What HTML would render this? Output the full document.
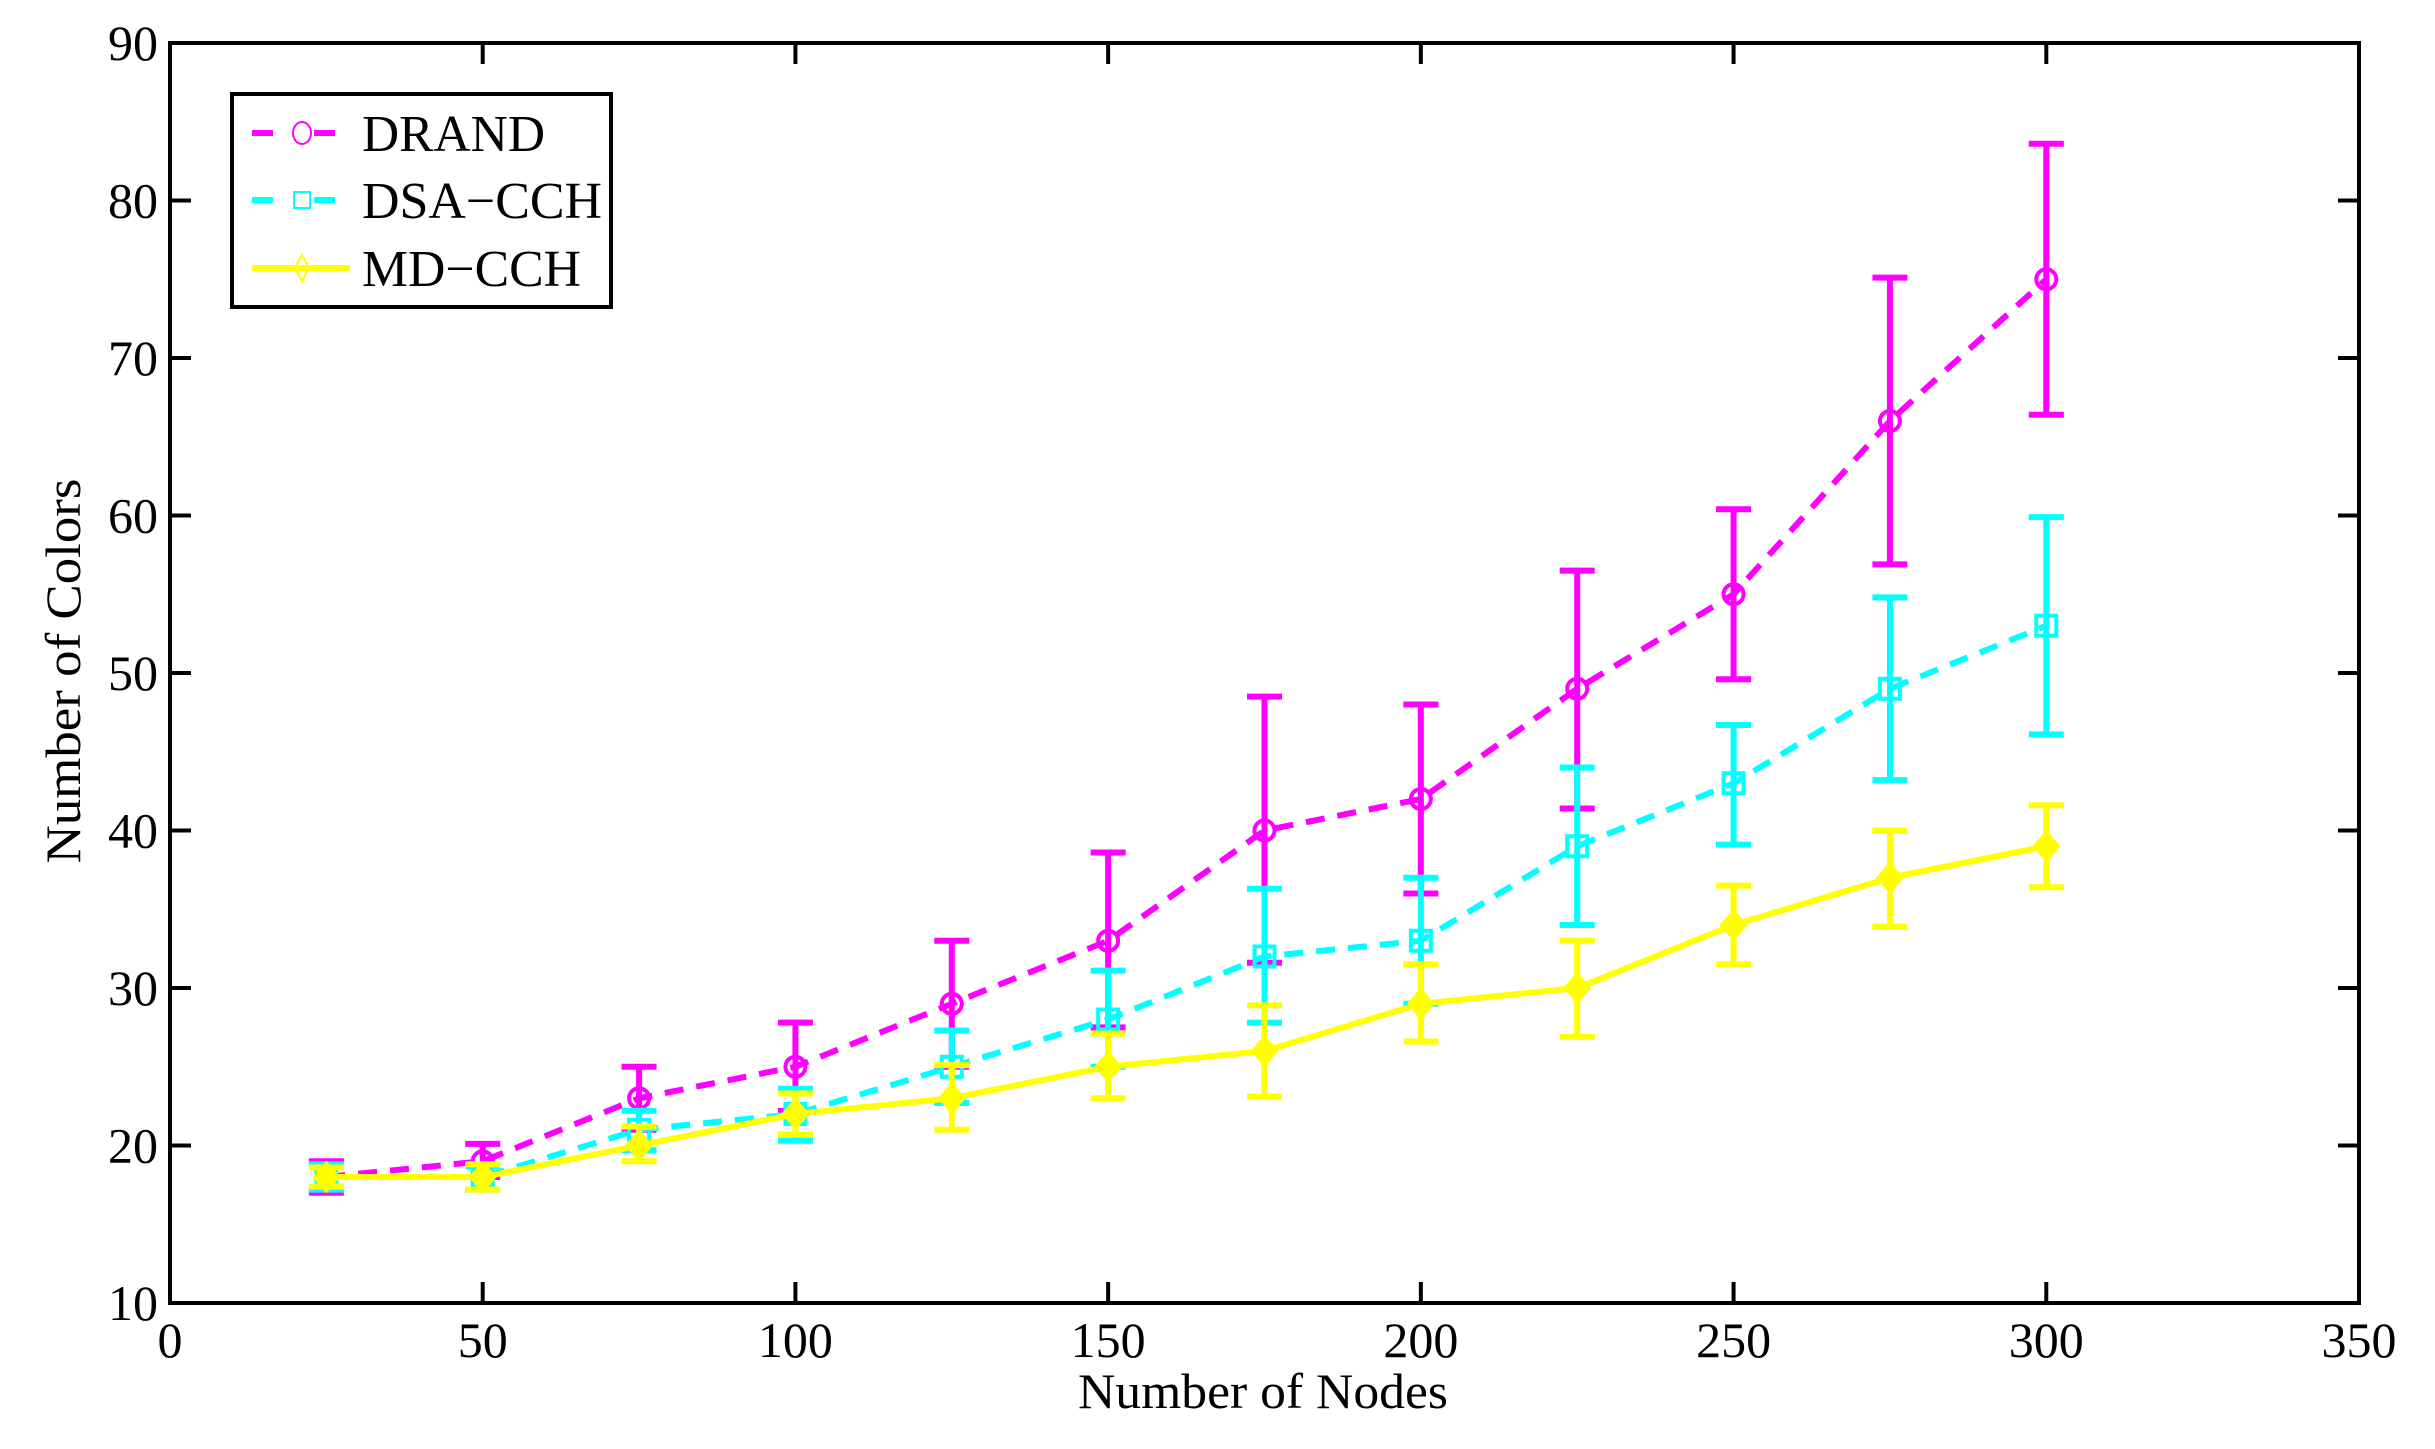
<!DOCTYPE html>
<html><head><meta charset="utf-8"><style>
html,body{margin:0;padding:0;background:#fff;}
svg{display:block;font-family:"Liberation Serif","Times New Roman",serif;}
</style></head><body>
<svg id="s" width="2435" height="1449" viewBox="0 0 2435 1449" xmlns="http://www.w3.org/2000/svg">
<rect width="2435" height="1449" fill="#fff"/>
<g id="data"></g>
<g id="axes" stroke="#000" stroke-width="4" fill="none">
<rect x="170" y="43" width="2189" height="1260"/>
</g>
<g id="labels" font-size="50" fill="#000"></g>
<text x="1263" y="1408" font-size="50" text-anchor="middle" textLength="370" lengthAdjust="spacingAndGlyphs">Number of Nodes</text>
<text transform="translate(80,671) rotate(-90)" font-size="50" text-anchor="middle" textLength="385" lengthAdjust="spacingAndGlyphs">Number of Colors</text>
<g id="legend"></g>
</svg>
<script>
const NS="http://www.w3.org/2000/svg";
function el(t,a,p){const e=document.createElementNS(NS,t);for(const k in a)e.setAttribute(k,a[k]);(p||document.getElementById('data')).appendChild(e);return e;}
const X=v=>170+v*6.2543, Y=v=>1303-(v-10)*15.75;
const axes=document.getElementById('axes'), lab=document.getElementById('labels');
for(let v=0;v<=350;v+=50){const x=X(v);
 if(v>0&&v<350){el('line',{x1:x,y1:1303,x2:x,y2:1282},axes);el('line',{x1:x,y1:43,x2:x,y2:64},axes);}
 const t=el('text',{x:x,y:1357,'text-anchor':'middle'},lab);t.textContent=v;}
for(let v=10;v<=90;v+=10){const y=Y(v);
 if(v>10&&v<90){el('line',{x1:170,y1:y,x2:191,y2:y},axes);el('line',{x1:2359,y1:y,x2:2338,y2:y},axes);}
 const t=el('text',{x:158,y:y+17,'text-anchor':'end'},lab);t.textContent=v;}
const xs=[25,50,75,100,125,150,175,200,225,250,275,300];
const S=[
 {c:'#ff00ff',m:[18,19,23,25,29,33,40,42,49,55,66,75],lo:[17,18,21,22.2,25,27.5,31.6,36,41.4,49.6,56.9,66.4],hi:[19,20.1,25,27.8,33,38.6,48.5,48,56.5,60.4,75.1,83.6],dash:true,mk:'o'},
 {c:'#00ffff',m:[18,18,21,22,25,28,32,33,39,43,49,53],lo:[17.2,17.2,19.7,20.3,22.7,25,27.8,29,34,39.1,43.2,46.1],hi:[18.8,18.7,22.2,23.6,27.3,31.1,36.3,37,44,46.7,54.8,59.9],dash:true,mk:'s'},
 {c:'#ffff00',m:[18,18,20,22,23,25,26,29,30,34,37,39],lo:[17.4,17.2,19,20.7,21,23,23.1,26.6,26.9,31.5,33.9,36.4],hi:[18.6,18.8,21.2,23.3,25.1,27.1,28.9,31.5,33,36.5,40,41.6],dash:false,mk:'d'}
];
function marker(mk,x,y,c,fill){
 if(mk=='o')el('circle',{cx:x,cy:y,r:10,fill:'none',stroke:c,'stroke-width':4});
 else if(mk=='s')el('rect',{x:x-10,y:y-10,width:20,height:20,fill:'none',stroke:c,'stroke-width':4});
 else el('polygon',{points:`${x},${y-14} ${x+12},${y} ${x},${y+14} ${x-12},${y}`,fill:fill?c:'none',stroke:c,'stroke-width':fill?3:2});
}
S.forEach(s=>{
 xs.forEach((xv,i)=>{const x=X(xv),a=Y(s.hi[i]),b=Y(s.lo[i]);
  el('line',{x1:x,y1:a,x2:x,y2:b,stroke:s.c,'stroke-width':6});
  el('line',{x1:x-17.5,y1:a,x2:x+17.5,y2:a,stroke:s.c,'stroke-width':6});
  el('line',{x1:x-17.5,y1:b,x2:x+17.5,y2:b,stroke:s.c,'stroke-width':6});});
 el('polyline',{points:xs.map((xv,i)=>X(xv)+','+Y(s.m[i])).join(' '),fill:'none',stroke:s.c,'stroke-width':6,'stroke-dasharray':s.dash?'19 13':'none'});
 xs.forEach((xv,i)=>marker(s.mk,X(xv),Y(s.m[i]),s.c,true));
});
const lg=document.getElementById('legend');
el('rect',{x:232,y:94,width:379,height:213,fill:'#fff',stroke:'#000','stroke-width':4},lg);
const names=['DRAND','DSA\u2212CCH','MD\u2212CCH'],ly=[133,200,268],tl=[183,240,219];
S.forEach((s,i)=>{
 el('line',{x1:252,y1:ly[i],x2:350,y2:ly[i],stroke:s.c,'stroke-width':6,'stroke-dasharray':s.dash?'21 41':'none'},lg);
 const g=lg;const x=302,y=ly[i];
 if(s.mk=='o')el('ellipse',{cx:x,cy:y,rx:9,ry:11,fill:'none',stroke:s.c,'stroke-width':2},g);
 else if(s.mk=='s')el('rect',{x:x-8,y:y-8,width:16,height:16,fill:'none',stroke:s.c,'stroke-width':2},g);
 else el('polygon',{points:`${x},${y-13} ${x+7},${y} ${x},${y+13} ${x-7},${y}`,fill:'none',stroke:s.c,'stroke-width':2},g);
 const t=el('text',{x:362,y:ly[i]+18,'font-size':52,fill:'#000',textLength:tl[i],lengthAdjust:'spacingAndGlyphs'},lg);t.textContent=names[i];
});
</script>
</body></html>
